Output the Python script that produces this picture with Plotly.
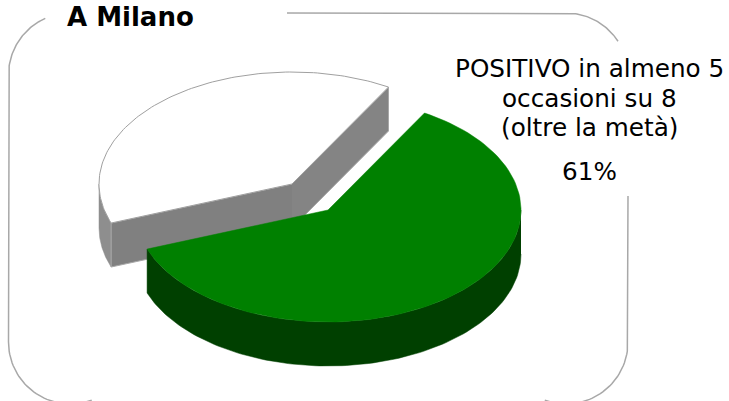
import numpy as np
import plotly.graph_objects as go

# --- data ---
slice_labels = ["POSITIVO in almeno 5 occasioni su 8 (oltre la metà)", "altro"]
slice_values = [61, 39]
title_text = "A Milano"
label_lines = ["POSITIVO in almeno 5", "occasioni su 8", "(oltre la metà)"]
value_label = "61%"

# --- drawing geometry (pixel-like axes) ---
W, H = 729, 401
RX, RY, DEPTH = 193, 112, 44
START_DEG = 30
GREEN_C = (328, 210)
GREY_C = (292, 184)


def rim(center, a0, a1, dy=0, n=120):
    a = np.radians(np.linspace(a0, a1, n))
    return center[0] + RX * np.sin(a), center[1] - RY * np.cos(a) + dy


def poly(xs, ys, fill, line=None, width=1):
    return go.Scatter(x=list(xs), y=list(ys), mode="lines", fill="toself", fillcolor=fill,
                      line=dict(color=line or fill, width=width), hoverinfo="skip")


def seg(xs, ys, color, width=1):
    return go.Scatter(x=list(xs), y=list(ys), mode="lines",
                      line=dict(color=color, width=width), hoverinfo="skip")


total = sum(slice_values)
green_end = START_DEG + 360 * slice_values[0] / total
grey_end = green_end + 360 * slice_values[1] / total

fig = go.Figure()

# grey / white exploded slice
cx, cy = GREY_C
x_s, y_s = rim(GREY_C, START_DEG, START_DEG, n=1)
x_e, y_e = rim(GREY_C, green_end, green_end, n=1)
x_s, y_s, x_e, y_e = x_s[0], y_s[0], x_e[0], y_e[0]
# outer visible wall
ox, oy = rim(GREY_C, green_end, 270)
fig.add_trace(poly(np.r_[ox, ox[::-1]], np.r_[oy, oy[::-1] + DEPTH], "#8e8e8e", width=0.5))
# cut faces
fig.add_trace(poly([cx, x_s, x_s, cx], [cy, y_s, y_s + DEPTH, cy + DEPTH], "#848484", "#a8a8a8", 1))
fig.add_trace(poly([cx, x_e, x_e, cx], [cy, y_e, y_e + DEPTH, cy + DEPTH], "#808080", "#a8a8a8", 1))
# top face
tx, ty = rim(GREY_C, green_end, grey_end)
fig.add_trace(poly(np.r_[cx, tx, cx], np.r_[cy, ty, cy], "#ffffff", "#a0a0a0", 1))

# green slice
gx, gy = GREEN_C
wx, wy = rim(GREEN_C, 90, green_end)
fig.add_trace(poly(np.r_[wx, wx[::-1]], np.r_[wy, wy[::-1] + DEPTH], "#004000", width=0.5))
tx, ty = rim(GREEN_C, START_DEG, green_end)
fig.add_trace(poly(np.r_[gx, tx, gx], np.r_[gy, ty, gy], "#008000", width=0.5))

# rounded frame, broken where the texts sit
L, R, T, B, RAD = 8.5, 628, 13, 342, 62


def arc(xc, yc, a0, a1, n=40):
    a = np.radians(np.linspace(a0, a1, n))
    return xc + RAD * np.cos(a), yc + RAD * np.sin(a)


frame_color = "#a8a8a8"
ax, ay = arc(L + RAD, T + RAD, 180, 246)
fig.add_trace(seg(np.r_[L, ax], np.r_[B, ay], frame_color, 1.5))
ax, ay = arc(R - RAD, T + RAD, 270, 327)
fig.add_trace(seg(np.r_[287, ax], np.r_[T, ay], frame_color, 1.5))
ax, ay = arc(R - RAD, B, 0, 110)
fig.add_trace(seg(np.r_[R, ax], np.r_[196, ay], frame_color, 1.5))
ax, ay = arc(L + RAD, B, 180, 70)
fig.add_trace(seg(ax, ay, frame_color, 1.5))

annotations = [dict(x=65, y=16.5, text=f"<b>{title_text}</b>", xanchor="left", yanchor="middle",
                    showarrow=False, font=dict(family="DejaVu Sans", size=26, color="#000000"))]
for txt, yy in zip(label_lines + [value_label], [68, 98, 127, 171.5]):
    annotations.append(dict(x=589, y=yy, text=txt, xanchor="center", yanchor="middle",
                            showarrow=False,
                            font=dict(family="DejaVu Sans", size=24.7, color="#000000")))

fig.update_layout(
    width=W, height=H, margin=dict(l=0, r=0, t=0, b=0),
    paper_bgcolor="#ffffff", plot_bgcolor="#ffffff", showlegend=False,
    xaxis=dict(range=[0, W], visible=False, fixedrange=True),
    yaxis=dict(range=[H, 0], visible=False, fixedrange=True),
    annotations=annotations,
)
fig.write_html("out.html", config={"displayModeBar": False},
               post_script="document.body.style.margin='0';document.body.style.overflow='hidden';")
